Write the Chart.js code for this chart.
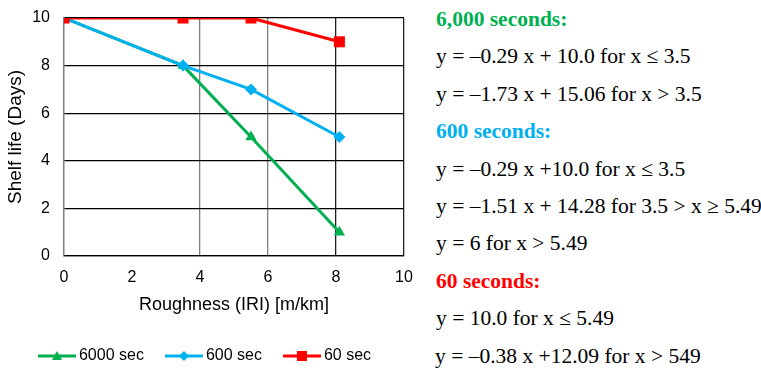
<!DOCTYPE html>
<html>
<head>
<meta charset="utf-8">
<script src="https://cdn.jsdelivr.net/npm/chart.js@4"></script>
<style>
  body { margin: 0; background: #fff; width: 761px; height: 368px; position: relative; overflow: hidden; }
  #wrap { position: absolute; left: 0; top: 0; width: 420px; height: 368px; }
  #notes { position: absolute; left: 436px; top: 1px; font-family: "Liberation Serif", "Times New Roman", serif; font-size: 21.5px; line-height: 37.4px; color: #000; white-space: nowrap; }
  #notes .h { font-weight: bold; }
</style>
</head>
<body>
<div id="wrap"><canvas id="chart" width="420" height="368"></canvas></div>
<div id="notes">
  <div class="h" style="color:#00b050">6,000 seconds:</div>
  <div>y = –0.29 x + 10.0 for x ≤ 3.5</div>
  <div>y = –1.73 x + 15.06 for x &gt; 3.5</div>
  <div class="h" style="color:#00b0f0">600 seconds:</div>
  <div>y = –0.29 x +10.0 for x ≤ 3.5</div>
  <div>y = –1.51 x + 14.28 for 3.5 &gt; x ≥ 5.49</div>
  <div>y = 6 for x &gt; 5.49</div>
  <div class="h" style="color:#ff0000">60 seconds:</div>
  <div>y = 10.0 for x ≤ 5.49</div>
  <div style="margin-left:-1px">y = –0.38 x +12.09 for x &gt; 549</div>
</div>
<script>
// data
const roughness = [0, 3.5, 5.5, 8.1];
const life6000 = [10, 8, 5, 1];
const life600 = [10, 8, 7, 5];
const life60 = [10, 10, 10, 9];
const seriesNames = ['6000 sec', '600 sec', '60 sec'];
const seriesColors = ['#00b050', '#00b0f0', '#ff0000'];
const seriesMarkers = ['triangle', 'rectRot', 'rect'];
const markerRadius = [6.5, 6, 7.8];

function toPoints(ys) {
    return roughness.map((x, i) => ({ x: x, y: ys[i] }));
}

// small legend swatch: line with marker in the middle
function swatch(color, marker) {
    const c = document.createElement('canvas');
    c.width = 38; c.height = 12;
    const g = c.getContext('2d');
    g.strokeStyle = color; g.fillStyle = color; g.lineWidth = 3;
    g.beginPath(); g.moveTo(0, 6); g.lineTo(38, 6); g.stroke();
    g.beginPath();
    if (marker === 'triangle') { g.moveTo(19, 1); g.lineTo(24, 10); g.lineTo(14, 10); }
    else if (marker === 'rectRot') { g.moveTo(19, 1); g.lineTo(24, 6); g.lineTo(19, 11); g.lineTo(14, 6); }
    else { g.rect(14, 1, 10, 10); }
    g.closePath(); g.fill();
    return c;
}

const allSeries = [life6000, life600, life60];
const datasets = allSeries.map((ys, i) => ({
    label: seriesNames[i],
    data: toPoints(ys),
    borderColor: seriesColors[i],
    backgroundColor: seriesColors[i],
    borderWidth: 3,
    pointStyle: seriesMarkers[i],
    pointRadius: markerRadius[i],
    pointBorderWidth: 0,
    order: 3 - i,
    tension: 0
}));

const xGridColor = ctx => {
    const v = ctx.tick.value;
    if (v === 2) return 'rgba(0,0,0,0)';
    if (v === 0 || v === 4 || v === 6) return '#808080';
    return '#202020';
};

new Chart(document.getElementById('chart'), {
    type: 'line',
    data: { datasets: datasets },
    options: {
        responsive: false,
        animation: false,
        layout: { padding: { left: 10, right: 16, top: 18, bottom: -6 } },
        plugins: {
            tooltip: { enabled: false },
            legend: {
                position: 'bottom',
                labels: {
                    usePointStyle: true,
                    pointStyleWidth: 28,
                    boxHeight: 12,
                    padding: 26,
                    color: '#000',
                    font: { family: 'Liberation Sans, Arial, sans-serif', size: 16 },
                    generateLabels: chart => chart.data.datasets.map((ds, i) => ({
                        text: ds.label,
                        pointStyle: swatch(seriesColors[i], seriesMarkers[i]),
                        fillStyle: seriesColors[i],
                        strokeStyle: seriesColors[i],
                        lineWidth: 0,
                        fontColor: '#000',
                        datasetIndex: i
                    }))
                }
            }
        },
        scales: {
            x: {
                type: 'linear',
                min: 0, max: 10,
                ticks: { stepSize: 2, color: '#000', padding: 12, font: { family: 'Liberation Sans, Arial, sans-serif', size: 16 } },
                grid: { color: xGridColor, lineWidth: 1.3, drawTicks: false },
                border: { color: '#000', width: 1.3 },
                title: { display: true, text: 'Roughness (IRI) [m/km]', color: '#000', padding: { top: 0, bottom: 6 }, font: { family: 'Liberation Sans, Arial, sans-serif', size: 18 } },
                afterFit: s => { s.height = 66; s.paddingLeft = 0; s.paddingRight = 0; }
            },
            y: {
                min: 0, max: 10,
                ticks: { stepSize: 2, color: '#000', padding: 14, font: { family: 'Liberation Sans, Arial, sans-serif', size: 16 } },
                grid: { color: '#000', lineWidth: 1.3, drawTicks: false },
                border: { color: '#808080', width: 1.3 },
                title: { display: true, text: 'Shelf life (Days)', color: '#000', padding: { top: -5.4, bottom: 0 }, font: { family: 'Liberation Sans, Arial, sans-serif', size: 19 } },
                afterFit: s => { s.width = 54; s.paddingTop = 0; s.paddingBottom = 0; }
            }
        }
    }
});
</script>
</body>
</html>
